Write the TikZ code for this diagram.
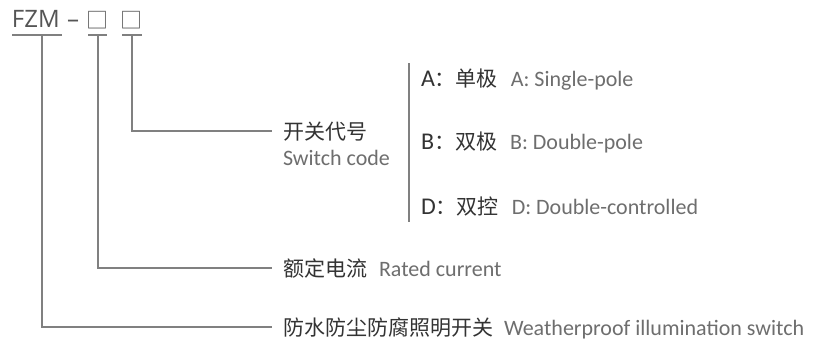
\documentclass[tikz,border=0pt]{standalone}
\usepackage{fontspec}
\setmainfont{Carlito}
\newfontfamily\cjk{Noto Sans CJK SC}
\newfontfamily\topf{Open Sans}
\definecolor{ln}{HTML}{808080}
\definecolor{dk}{HTML}{333333}
\definecolor{gr}{HTML}{6E6E6E}
\definecolor{tp}{HTML}{555555}
\tikzset{
  txt/.style={anchor=base west, inner sep=0pt, outer sep=0pt},
  cn/.style={txt, text=dk, font=\cjk\fontsize{21}{24}\selectfont},
  en/.style={txt, text=gr, font=\fontsize{22}{26}\selectfont},
  tops/.style={txt, text=tp, font=\topf\fontsize{24}{28}\selectfont},
  conn/.style={draw=ln, line width=1.2pt},
}
\begin{document}
\begin{tikzpicture}[x=1pt,y=-1pt]
\useasboundingbox (0,0) rectangle (815,341);
\fill[white] (0,0) rectangle (815,341);
% header
\node[tops] (fzm) at (12,27) {FZM};
\node[tops] (dash) at (67,27) {–};
\node[tops, font=\cjk\fontsize{22}{26}\selectfont] (b1) at (86,28) {□};
\node[tops, font=\cjk\fontsize{22}{26}\selectfont] (b2) at (120,28) {□};
\coordinate (u0a) at (12,35); \coordinate (u0b) at (62,35); \coordinate (u0m) at (42,35);
\coordinate (u1a) at (88,35); \coordinate (u1b) at (107,35); \coordinate (u1m) at (98,35);
\coordinate (u2a) at (122,35); \coordinate (u2b) at (142,35); \coordinate (u2m) at (132,35);
\draw[conn] (u0a) -- (u0b);
\draw[conn] (u1a) -- (u1b);
\draw[conn] (u2a) -- (u2b);
% switch code
\node[cn] (swc) at (283,139) {开关代号};
\node[en] (swe) at (283,165) {Switch code};
\draw[conn] (u2m) |- ([shift={(-11,-8)}]swc.base west);
% separator
\coordinate (s1) at (409,63); \coordinate (s2) at (409,222);
\draw[conn] (s1) -- (s2);
% options
\node[cn] (ac) at (421,86) {{\fontsize{24}{26}\selectfont\rmfamily A}：单极};
\node[en] (ae) at ([xshift=13]ac.base east) {A: Single-pole};
\node[cn] (bc) at (421,149) {{\fontsize{24}{26}\selectfont\rmfamily B}：双极};
\node[en] (be) at ([xshift=13]bc.base east) {B: Double-pole};
\node[cn] (dc) at (421,214) {{\fontsize{24}{26}\selectfont\rmfamily D}：双控};
\node[en] (de) at ([xshift=13]dc.base east) {D: Double-controlled};
% rated current
\node[cn] (rc) at (283,276) {额定电流};
\node[en] (re) at ([xshift=12]rc.base east) {Rated current};
\draw[conn] (u1m) |- ([shift={(-11,-8)}]rc.base west);
% weatherproof
\node[cn] (wc) at (283,335) {防水防尘防腐照明开关};
\node[en] (we) at ([xshift=11]wc.base east) {Weatherproof illumination switch};
\draw[conn] (u0m) |- ([shift={(-11,-8)}]wc.base west);
\end{tikzpicture}
\end{document}
